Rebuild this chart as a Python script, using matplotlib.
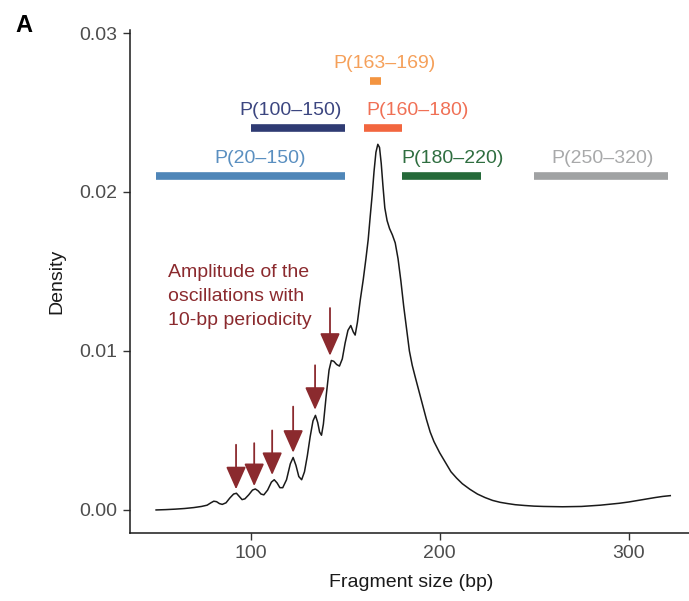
import matplotlib
matplotlib.use('Agg')
import matplotlib.pyplot as plt

plt.rcParams['font.family'] = ['Liberation Sans', 'DejaVu Sans']

# density curve of fragment sizes
frag_size = [50, 55, 60, 65, 70, 74, 77, 79, 80.5, 82, 83.5, 85, 87, 89, 91, 92.5,
             94, 95.5, 97, 99, 101, 102.5, 104, 105.5, 107, 109, 111, 112.5, 114,
             115.5, 117, 119, 121, 122.5, 124, 125.5, 127, 128.5, 130, 131.5, 133,
             134.3, 135.5, 136.5, 137.5, 138.5, 140, 141.5, 142.7, 144, 145.5, 147,
             148.5, 150, 151.5, 153, 154.3, 155.3, 156.5, 158, 159.6, 161, 162.2,
             163.3, 164.3, 165.3, 166.3, 167.3, 168.2, 169.1, 170, 171, 172.2,
             173.5, 175, 176.5, 178, 179.5, 181, 182.5, 184, 185.5, 187, 189, 191,
             193, 195, 197, 200, 203, 206, 209, 212, 216, 220, 224, 228, 232, 236,
             240, 245, 250, 255, 260, 265, 270, 275, 280, 285, 290, 295, 300, 305,
             310, 314, 318, 322]
density_e3 = [0.00, 0.02, 0.05, 0.09, 0.15, 0.22, 0.30, 0.45, 0.55, 0.52, 0.40,
              0.35, 0.45, 0.75, 1.00, 1.05, 0.85, 0.65, 0.70, 0.95, 1.25, 1.32,
              1.20, 1.00, 0.95, 1.25, 1.75, 1.90, 1.70, 1.40, 1.40, 1.90, 2.90,
              3.30, 2.80, 2.10, 1.90, 2.40, 3.40, 4.60, 5.60, 5.95, 5.50, 4.90,
              4.70, 5.40, 7.20, 8.80, 9.40, 9.35, 9.15, 9.05, 9.50, 10.5, 11.3,
              11.6, 11.2, 11.0, 11.8, 13.2, 14.5, 15.8, 17.0, 18.5, 19.8, 21.3,
              22.5, 23.0, 22.8, 21.8, 20.4, 19.0, 18.2, 17.7, 17.3, 16.8, 15.8,
              14.4, 12.8, 11.4, 10.0, 9.1, 8.4, 7.5, 6.6, 5.7, 4.9, 4.3, 3.6,
              3.0, 2.4, 2.0, 1.65, 1.3, 1.0, 0.78, 0.6, 0.48, 0.4, 0.33, 0.28,
              0.24, 0.22, 0.21, 0.20, 0.21, 0.22, 0.26, 0.30, 0.36, 0.42, 0.50,
              0.60, 0.70, 0.78, 0.85, 0.90]
density = [d / 1000 for d in density_e3]

# size ranges shown as bars
range_labels = ['P(20–150)', 'P(100–150)', 'P(160–180)', 'P(163–169)', 'P(180–220)', 'P(250–320)']
range_start = [50, 100, 160, 163, 180, 250]
range_end = [150, 150, 180, 169, 222, 321]
range_level = [0.021, 0.024, 0.024, 0.027, 0.021, 0.021]
range_colors = ['#4f86b8', '#2f3b73', '#f2663f', '#f39440', '#256a3a', '#a0a2a3']
label_colors = ['#5a8fc0', '#3c4680', '#f07055', '#f5a05a', '#2f6e40', '#a8a9aa']
label_x = [104.8, 121.2, 188.1, 170.9, 206.9, 286]

# arrows marking the 10-bp oscillations
arrow_x = [92.3, 101.9, 111.4, 122.5, 134.1, 142.0]
arrow_top = [0.0041, 0.0042, 0.0050, 0.0065, 0.0091, 0.0127]
arrow_tip = [0.0013, 0.0015, 0.0022, 0.0036, 0.0063, 0.0097]

red = '#8b2a2e'

fig = plt.figure(figsize=(6.89, 6.01), dpi=100)
ax = fig.add_axes([130 / 689, 68 / 601, 562 / 689, 503 / 601])

ax.plot(frag_size, density, color='#1a1a1a', lw=1.1)

for lab, s, e, lv, c, lc, lx in zip(range_labels, range_start, range_end, range_level,
                                     range_colors, label_colors, label_x):
    ax.hlines(lv, s, e, color=c, lw=5.5, capstyle='butt')
    ax.text(lx, lv + 0.0011, lab, color=lc, fontsize=14, ha='center', va='center')

for x, top, tip in zip(arrow_x, arrow_top, arrow_tip):
    ax.annotate('', xy=(x, tip), xytext=(x, top),
                arrowprops=dict(arrowstyle='-|>,head_length=1.4,head_width=0.62',
                                color=red, lw=1.3, mutation_scale=10,
                                shrinkA=0, shrinkB=0))

ax.text(56.3, 0.0155, 'Amplitude of the\noscillations with\n10-bp periodicity',
        color=red, fontsize=14, ha='left', va='top', linespacing=1.55)

ax.set_xlim(36.2, 333.5)
ax.set_ylim(-0.00145, 0.03019)
ax.set_xticks([100, 200, 300])
ax.set_yticks([0.0, 0.01, 0.02, 0.03])
ax.set_yticklabels(['0.00', '0.01', '0.02', '0.03'])
ax.tick_params(direction='out', length=5, width=1, color='#333333',
               labelsize=14, labelcolor='#4d4d4d', pad=4)
for side in ['top', 'right']:
    ax.spines[side].set_visible(False)
for side in ['left', 'bottom']:
    ax.spines[side].set_linewidth(1.1)
    ax.spines[side].set_color('#1a1a1a')

ax.set_xlabel('Fragment size (bp)', fontsize=14, color='#1a1a1a', labelpad=8)
ax.set_ylabel('Density', fontsize=14, color='#1a1a1a', labelpad=10)

fig.text(0.022, 0.947, 'A', fontsize=17, fontweight='bold', ha='left', va='baseline')

plt.savefig('out.png', dpi=100)
